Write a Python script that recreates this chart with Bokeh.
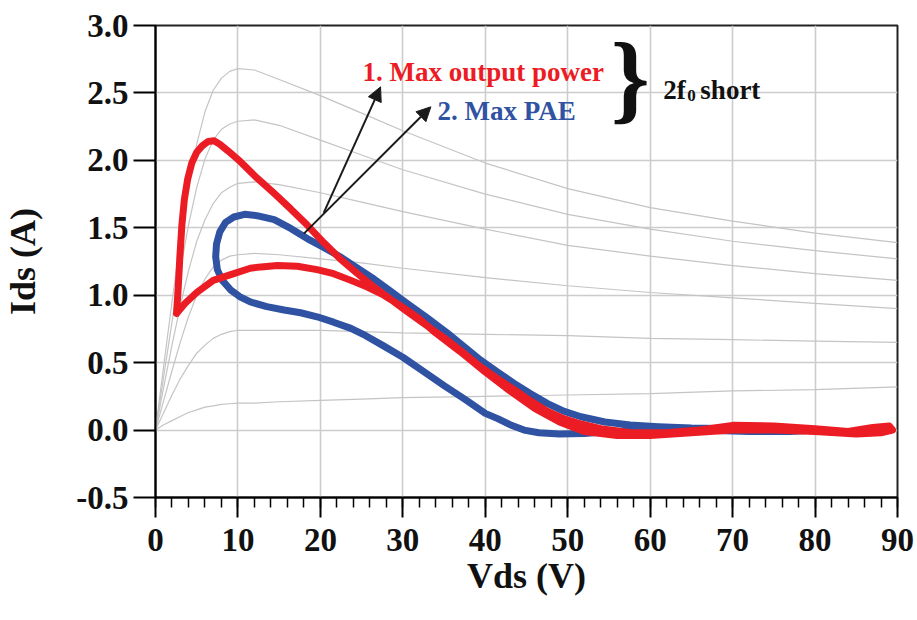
from bokeh.plotting import figure
from bokeh.models import Range1d, Arrow, NormalHead, Label, FixedTicker
from bokeh.embed import file_html
from bokeh.resources import INLINE

# ---------------- data ----------------
x_ticks = [0, 10, 20, 30, 40, 50, 60, 70, 80, 90]
x_minor = list(range(0, 91, 2))
y_ticks = [-0.5, 0.0, 0.5, 1.0, 1.5, 2.0, 2.5, 3.0]
y_tick_labels = ["-0.5", "0.0", "0.5", "1.0", "1.5", "2.0", "2.5", "3.0"]

# simulated I-V characteristics (grey)
iv_v = [0, 1, 2, 3, 4, 5, 6, 7, 8, 9, 10, 12, 15, 20, 25, 30, 40, 50, 60, 70, 80, 90]
iv_1 = [0, 0.48, 0.95, 1.40, 1.80, 2.12, 2.36, 2.52, 2.61, 2.66, 2.68, 2.67, 2.60, 2.48, 2.35, 2.22, 1.98, 1.79, 1.65, 1.55, 1.46, 1.39]
iv_2 = [0, 0.40, 0.80, 1.18, 1.52, 1.80, 2.01, 2.15, 2.23, 2.27, 2.29, 2.30, 2.26, 2.15, 2.04, 1.93, 1.75, 1.60, 1.49, 1.40, 1.33, 1.27]
iv_3 = [0, 0.32, 0.63, 0.92, 1.18, 1.40, 1.56, 1.68, 1.76, 1.80, 1.83, 1.84, 1.82, 1.76, 1.69, 1.62, 1.49, 1.37, 1.29, 1.22, 1.16, 1.11]
iv_4 = [0, 0.22, 0.44, 0.65, 0.84, 1.00, 1.12, 1.21, 1.26, 1.29, 1.30, 1.31, 1.30, 1.27, 1.24, 1.20, 1.13, 1.07, 1.02, 0.98, 0.94, 0.90]
iv_5 = [0, 0.13, 0.26, 0.38, 0.48, 0.57, 0.63, 0.68, 0.71, 0.73, 0.74, 0.74, 0.74, 0.74, 0.73, 0.72, 0.71, 0.70, 0.68, 0.67, 0.66, 0.65]
iv_6 = [0, 0.04, 0.07, 0.10, 0.13, 0.15, 0.17, 0.18, 0.19, 0.195, 0.20, 0.20, 0.21, 0.22, 0.23, 0.24, 0.25, 0.26, 0.27, 0.29, 0.30, 0.32]

# load line 1: max output power (red), closed loop
red_v = [2.55, 2.75, 2.95, 3.2, 3.5, 3.9, 4.4, 5.0, 5.7, 6.4, 7.1, 7.8, 8.8, 10.3, 12.3, 14.3, 16.4,
         18.4, 20.4, 22.4, 24.5, 26.5, 28.5, 30.5, 33.0, 35.4, 37.4, 39.4, 41.5, 43.5, 45.5, 47.5,
         49.5, 51.6, 54.0, 57.6, 62.0, 66.0, 70.0, 75.0, 80.0, 84.0, 87.0, 89.0, 89.4,
         88.0, 85.0, 80.0, 75.0, 70.0, 65.0, 60.0, 56.0, 52.0, 49.0, 46.0, 43.0, 40.0, 37.0,
         34.0, 31.7, 29.5, 27.7, 25.7, 23.7, 21.6, 19.6, 17.2, 14.8, 12.8, 11.5, 9.5, 7.0,
         5.0, 3.6, 2.55]
red_i = [0.865, 1.05, 1.28, 1.52, 1.71, 1.86, 1.98, 2.06, 2.11, 2.14, 2.145, 2.12, 2.07, 1.99, 1.87, 1.76, 1.64,
         1.52, 1.39, 1.27, 1.16, 1.06, 0.97, 0.88, 0.77, 0.667, 0.57, 0.47, 0.38, 0.30, 0.215, 0.14,
         0.085, 0.045, 0.01, -0.02, -0.02, 0.0, 0.035, 0.03, 0.01, -0.01, 0.02, 0.03, 0.0,
         -0.02, -0.03, -0.01, 0.0, 0.0, -0.02, -0.04, -0.04, -0.01, 0.06, 0.16, 0.29, 0.43, 0.58,
         0.72, 0.84, 0.93, 1.00, 1.06, 1.11, 1.16, 1.19, 1.215, 1.22, 1.21, 1.20, 1.16, 1.11,
         1.02, 0.94, 0.865]

# load line 2: max PAE (blue), closed loop
blue_v = [7.3, 7.4, 7.8, 8.5, 9.5, 10.8, 12.3, 14.4, 16.4, 18.4, 20.4, 22.4, 24.5, 26.5, 28.5, 30.5,
          33.0, 35.4, 37.4, 39.4, 41.5, 43.5, 45.5, 47.5, 49.5, 51.6, 54.5, 57.6, 61.0, 65.0, 70.0,
          75.0, 80.0, 77.0, 72.0, 66.0, 60.0, 55.0, 52.0, 49.0, 46.5, 44.7, 43.0, 41.5, 40.0, 37.5,
          35.0, 32.5, 30.0, 27.5, 25.5, 23.7, 21.6, 19.6, 17.6, 15.6, 13.5, 11.5, 10.2, 9.1, 8.1,
          7.5, 7.3]
blue_i = [1.285, 1.38, 1.47, 1.54, 1.58, 1.60, 1.59, 1.56, 1.495, 1.42, 1.355, 1.285, 1.20, 1.12, 1.03, 0.94,
          0.83, 0.72, 0.62, 0.52, 0.43, 0.346, 0.27, 0.198, 0.14, 0.099, 0.06, 0.037, 0.025, 0.015, 0.01,
          0.005, 0.0, -0.01, -0.01, 0.0, 0.0, -0.01, -0.025, -0.03, -0.02, 0.0, 0.04, 0.085, 0.124, 0.23,
          0.33, 0.435, 0.54, 0.63, 0.70, 0.754, 0.80, 0.84, 0.87, 0.89, 0.915, 0.95, 0.99, 1.04, 1.11,
          1.19, 1.285]

# annotation anchors (V, A)
arrow1 = (20.4, 1.61, 27.3, 2.545)
arrow2 = (18.0, 1.457, 33.4, 2.397)
label1_pos = (25.1, 2.654)
label2_pos = (34.2, 2.365)
brace_pos = (57.6, 2.617)
note_pos = (61.6, 2.52)

RED = "#ec1c24"
BLUE = "#2f52a3"
GRID = "#cccccc"
FONT = "Liberation Serif"

p = figure(width=917, height=620, x_range=Range1d(0, 90), y_range=Range1d(-0.5, 3.0),
           output_backend="svg", toolbar_location=None,
           min_border_left=155, min_border_right=20, min_border_top=25, min_border_bottom=123)
p.background_fill_color = "white"
p.border_fill_color = "white"
p.outline_line_color = "#222222"
p.outline_line_width = 2

# grid
p.xgrid.ticker = FixedTicker(ticks=x_ticks)
p.ygrid.ticker = FixedTicker(ticks=y_ticks)
for g in (p.xgrid, p.ygrid):
    g.grid_line_color = GRID
    g.grid_line_width = 1.6

# axes
xa = p.xaxis[0]
xa.ticker = FixedTicker(ticks=x_ticks, minor_ticks=x_minor)
xa.axis_label = "Vds (V)"
xa.major_tick_out = 20
xa.major_tick_in = 0
xa.minor_tick_out = 10
xa.minor_tick_in = 0
xa.major_label_standoff = 11
xa.axis_label_standoff = 2

ya = p.yaxis[0]
ya.ticker = FixedTicker(ticks=y_ticks)
ya.major_label_overrides = {t: l for t, l in zip(y_ticks, y_tick_labels)}
ya.axis_label = "Ids (A)"
ya.major_tick_out = 22
ya.major_tick_in = 0
ya.major_label_standoff = 5
ya.axis_label_standoff = 30

for a in (xa, ya):
    a.axis_line_color = "black"
    a.axis_line_width = 2
    a.major_tick_line_color = "black"
    a.major_tick_line_width = 2
    a.minor_tick_line_width = 1.5
    a.major_label_text_font = FONT
    a.major_label_text_font_style = "bold"
    a.major_label_text_font_size = "33px"
    a.major_label_text_color = "#111111"
    a.axis_label_text_font = FONT
    a.axis_label_text_font_style = "bold"
    a.axis_label_text_font_size = "36px"
    a.axis_label_text_color = "#111111"
xa.minor_tick_line_color = "black"
ya.minor_tick_line_color = None

# grey I-V curves
for curve in (iv_1, iv_2, iv_3, iv_4, iv_5, iv_6):
    p.line(iv_v, curve, line_color="#c4c4c4", line_width=1.2)

# load lines
p.line(blue_v, blue_i, line_color=BLUE, line_width=7, line_join="round", line_cap="round")
p.line(red_v, red_i, line_color=RED, line_width=7, line_join="round", line_cap="round")

# arrows
for a in (arrow1, arrow2):
    p.add_layout(Arrow(x_start=a[0], y_start=a[1], x_end=a[2], y_end=a[3],
                       line_color="#1a1a1a", line_width=2,
                       end=NormalHead(size=14, fill_color="#1a1a1a", line_color="#1a1a1a")))

# texts
p.add_layout(Label(x=label1_pos[0], y=label1_pos[1], text="1. Max output power",
                   text_font=FONT, text_font_style="bold", text_font_size="27px",
                   text_color=RED, text_baseline="alphabetic"))
p.add_layout(Label(x=label2_pos[0], y=label2_pos[1], text="2. Max PAE",
                   text_font=FONT, text_font_style="bold", text_font_size="27px",
                   text_color=BLUE, text_baseline="alphabetic"))
p.add_layout(Label(x=brace_pos[0], y=brace_pos[1], text="}",
                   text_font=FONT, text_font_style="bold", text_font_size="99px",
                   text_color="#111111", text_align="center", text_baseline="middle"))
p.add_layout(Label(x=note_pos[0], y=note_pos[1], text="2f",
                   text_font=FONT, text_font_style="bold", text_font_size="27px",
                   text_color="#111111", text_baseline="alphabetic"))
p.add_layout(Label(x=note_pos[0], y=note_pos[1], x_offset=24, y_offset=-5, text="0",
                   text_font=FONT, text_font_style="bold", text_font_size="17px",
                   text_color="#111111", text_baseline="alphabetic"))
p.add_layout(Label(x=note_pos[0], y=note_pos[1], x_offset=37, text="short",
                   text_font=FONT, text_font_style="bold", text_font_size="27px",
                   text_color="#111111", text_baseline="alphabetic"))

open("out.html", "w").write(file_html(p, INLINE))
